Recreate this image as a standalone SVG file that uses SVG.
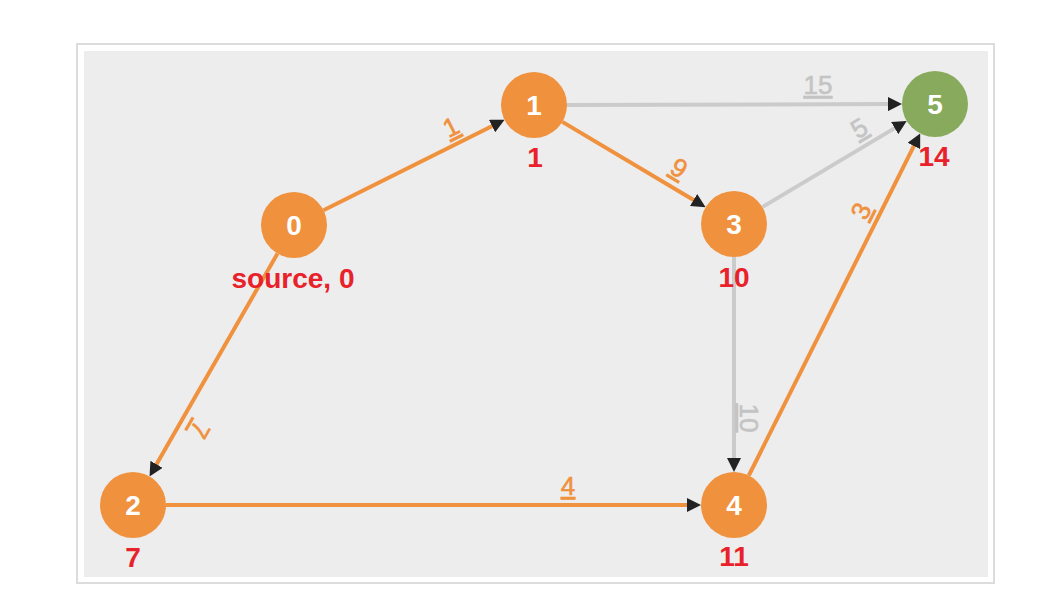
<svg xmlns="http://www.w3.org/2000/svg" width="1054" height="600" viewBox="0 0 1054 600">
<style>
.edge{stroke-width:4;fill:none}
.or{stroke:#f0913e}
.gr{stroke:#cbcbcb}
.node{stroke:none}
.nl{font-family:"Liberation Sans",Arial,sans-serif;font-weight:bold;font-size:28px;fill:#ffffff;text-anchor:middle}
.dl{font-family:"Liberation Sans",Arial,sans-serif;font-weight:bold;font-size:28px;fill:#e8212b;text-anchor:middle}
.el{font-family:"Liberation Sans",Arial,sans-serif;font-size:26px;text-anchor:middle;text-decoration:underline;stroke-width:0.6}
.elo{fill:#f0913e;stroke:#f0913e}
.elg{fill:#c4c4c4;stroke:#c4c4c4}
</style>
<defs>
<marker id="arr" markerUnits="userSpaceOnUse" markerWidth="14" markerHeight="14" refX="2" refY="7" orient="auto" viewBox="0 0 14 14">
<path d="M0,0 L14,7 L0,14 z" fill="#222"/>
</marker>
</defs>
<rect x="77" y="44" width="917" height="539" fill="#ffffff" stroke="#dcdcdc" stroke-width="2"/>
<rect x="84" y="51" width="904" height="526" fill="#ededed"/>
<g id="connectors">
<line class="edge gr" x1="567" y1="104.9" x2="890" y2="104.1" marker-end="url(#arr)"/>
<line class="edge gr" x1="762.3" y1="207.1" x2="896.4" y2="127.1" marker-end="url(#arr)"/>
<line class="edge gr" x1="734" y1="257" x2="734" y2="460" marker-end="url(#arr)"/>
<line class="edge or" x1="323.5" y1="210.2" x2="493.8" y2="125.2" marker-end="url(#arr)"/>
<line class="edge or" x1="562.4" y1="121.9" x2="695.3" y2="201" marker-end="url(#arr)"/>
<line class="edge or" x1="277.5" y1="253.6" x2="155.5" y2="466" marker-end="url(#arr)"/>
<line class="edge or" x1="166" y1="505" x2="689" y2="505" marker-end="url(#arr)"/>
<line class="edge or" x1="748.8" y1="475.5" x2="914.8" y2="144.2" marker-end="url(#arr)"/>
<g transform="translate(451,127) rotate(-26.6)"><text class="el elo" x="0" y="9">1</text></g>
<g transform="translate(679,168) rotate(30.7)"><text class="el elo" x="0" y="9">9</text></g>
<g transform="translate(200,430) rotate(119.9)"><text class="el elo" x="0" y="9">7</text></g>
<g transform="translate(568,486)"><text class="el elo" x="0" y="9">4</text></g>
<g transform="translate(861,211) rotate(-63.4)"><text class="el elo" x="0" y="9">3</text></g>
<g transform="translate(818,85)"><text class="el elg" x="0" y="9">15</text></g>
<g transform="translate(859,128) rotate(-30.8)"><text class="el elg" x="0" y="9">5</text></g>
<g transform="translate(749,418) rotate(90)"><text class="el elg" x="0" y="9">10</text></g>
</g>
<g id="node0"><circle class="node" cx="294" cy="225" r="33" fill="#f0913e"/><text class="nl" x="294" y="235">0</text><text class="dl" x="293" y="288">source, 0</text></g>
<g id="node1"><circle class="node" cx="534" cy="105" r="33" fill="#f0913e"/><text class="nl" x="534" y="115">1</text><text class="dl" x="535" y="167">1</text></g>
<g id="node2"><circle class="node" cx="133" cy="505" r="33" fill="#f0913e"/><text class="nl" x="133" y="515">2</text><text class="dl" x="133" y="567">7</text></g>
<g id="node3"><circle class="node" cx="734" cy="224" r="33" fill="#f0913e"/><text class="nl" x="734" y="234">3</text><text class="dl" x="734" y="287">10</text></g>
<g id="node4"><circle class="node" cx="734" cy="505" r="33" fill="#f0913e"/><text class="nl" x="734" y="515">4</text><text class="dl" x="734" y="566">11</text></g>
<g id="node5"><circle class="node" cx="935" cy="104" r="33" fill="#87aa5c"/><text class="nl" x="935" y="114">5</text><text class="dl" x="934" y="166">14</text></g>
</svg>
